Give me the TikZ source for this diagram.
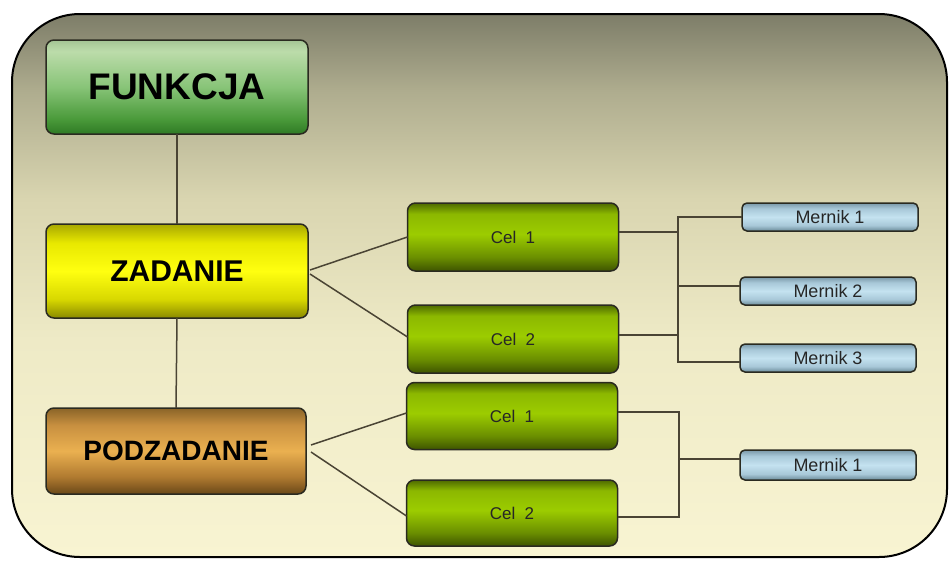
\documentclass[tikz,border=0pt]{standalone}
\usepackage{fontspec}
\setmainfont{Liberation Sans}
\usetikzlibrary{calc}
\definecolor{bgA}{HTML}{F8F4D2}
\definecolor{bgB}{HTML}{EEEAC6}
\definecolor{bgC}{HTML}{D9D5B0}
\definecolor{bgD}{HTML}{AEAC8E}
\definecolor{bgE}{HTML}{7D7D68}
\definecolor{edge}{HTML}{2A2A20}
\definecolor{wire}{HTML}{4A4434}
\definecolor{fA}{HTML}{2F7A25}
\definecolor{fB}{HTML}{4A9A3A}
\definecolor{fC}{HTML}{88C478}
\definecolor{fD}{HTML}{BCDCAA}
\definecolor{fE}{HTML}{A4C494}
\definecolor{zA}{HTML}{8A8A00}
\definecolor{zB}{HTML}{D8D800}
\definecolor{zC}{HTML}{FFFF10}
\definecolor{zD}{HTML}{E8E800}
\definecolor{zE}{HTML}{A8A800}
\definecolor{pA}{HTML}{6A4818}
\definecolor{pB}{HTML}{B07A30}
\definecolor{pC}{HTML}{EAB050}
\definecolor{pD}{HTML}{C89040}
\definecolor{pE}{HTML}{8A6428}
\definecolor{cA}{HTML}{3E5400}
\definecolor{cB}{HTML}{6A8E00}
\definecolor{cC}{HTML}{9CCC00}
\definecolor{cD}{HTML}{8CB800}
\definecolor{cE}{HTML}{4E6A00}
\definecolor{mA}{HTML}{6A8A98}
\definecolor{mB}{HTML}{A8C8D8}
\definecolor{mC}{HTML}{C4E2F0}
\definecolor{mD}{HTML}{A8C8D8}
\definecolor{mE}{HTML}{7A98A8}
\pgfdeclareverticalshading{bgshade}{100bp}{color(0bp)=(bgA); color(25bp)=(bgA); color(45bp)=(bgB); color(58bp)=(bgC); color(68bp)=(bgD); color(75bp)=(bgE); color(100bp)=(bgE)}
\pgfdeclareverticalshading{funkshade}{100bp}{color(0bp)=(fA); color(25bp)=(fA); color(33bp)=(fB); color(50bp)=(fC); color(69bp)=(fD); color(75bp)=(fE); color(100bp)=(fE)}
\pgfdeclareverticalshading{zadshade}{100bp}{color(0bp)=(zA); color(25bp)=(zA); color(35bp)=(zB); color(50bp)=(zC); color(65bp)=(zD); color(75bp)=(zE); color(100bp)=(zE)}
\pgfdeclareverticalshading{podshade}{100bp}{color(0bp)=(pA); color(25bp)=(pA); color(35bp)=(pB); color(50bp)=(pC); color(65bp)=(pD); color(75bp)=(pE); color(100bp)=(pE)}
\pgfdeclareverticalshading{celshade}{100bp}{color(0bp)=(cA); color(25bp)=(cA); color(35bp)=(cB); color(52bp)=(cC); color(67bp)=(cD); color(75bp)=(cE); color(100bp)=(cE)}
\pgfdeclareverticalshading{mershade}{100bp}{color(0bp)=(mA); color(25bp)=(mA); color(35bp)=(mB); color(50bp)=(mC); color(65bp)=(mD); color(75bp)=(mE); color(100bp)=(mE)}
\tikzset{
  box/.style={draw=edge, line width=1.5pt, rounded corners=8pt, inner sep=0pt, outer sep=0pt, align=center},
  bigbox/.style={box, minimum width=262pt, minimum height=94pt, font=\bfseries, text=black},
  celbox/.style={box, shading=celshade, minimum width=211pt, minimum height=68pt, font=\fontsize{17}{19}\selectfont, text=black!85},
  merbox/.style={box, shading=mershade, rounded corners=5pt, minimum width=176pt, minimum height=28pt, font=\fontsize{18}{20}\selectfont, text=black!85},
  conn/.style={draw=wire, line width=1.5pt}
}
\begin{document}
\begin{tikzpicture}[x=1pt,y=-1pt]
\useasboundingbox (0,0) rectangle (950,560);
\fill[white] (0,0) rectangle (950,560);
\path[draw=black, line width=2pt, shading=bgshade, rounded corners=68pt] (12,14) rectangle (947,557);
% main nodes
\node[bigbox, shading=funkshade, font=\bfseries\fontsize{37}{40}\selectfont] (f) at (177,87) {FUNKCJA};
\node[bigbox, shading=zadshade, font=\bfseries\fontsize{30}{34}\selectfont] (z) at (177,271) {ZADANIE};
\node[bigbox, shading=podshade, minimum width=260pt, minimum height=86pt, font=\bfseries\fontsize{28}{32}\selectfont] (p) at (176,451) {PODZADANIE};
% goals
\node[celbox] (c1) at (513,237) {Cel\ \ 1};
\node[celbox] (c2) at (513,339) {Cel\ \ 2};
\node[celbox, minimum height=67pt] (c3) at (512,416) {Cel\ \ 1};
\node[celbox, minimum height=66pt] (c4) at (512,513) {Cel\ \ 2};
% measures
\node[merbox] (m1) at (830,217) {Mernik 1};
\node[merbox] (m2) at (828,291) {Mernik 2};
\node[merbox] (m3) at (828,358) {Mernik 3};
\node[merbox, minimum height=30pt] (m4) at (828,465) {Mernik 1};
\coordinate (j1) at (678,0);
\coordinate (j2) at (679,0);
% connectors
\draw[conn] (f.south) -- (z.north);
\draw[conn] (z.south) -- (p.north);
\draw[conn] ($(z.east)+(2,-1)$) -- ($(c1.west)+(0,0)$);
\draw[conn] ($(z.east)+(2,3)$) -- ($(c2.west)+(0,-2)$);
\draw[conn] ($(p.east)+(5,-6)$) -- ($(c3.west)+(0,-3)$);
\draw[conn] ($(p.east)+(5,1)$) -- ($(c4.west)+(0,3)$);
\draw[conn] ($(c1.east)+(0,-5)$) -- ($(c1.east -| j1)+(0,-5)$);
\draw[conn] (m1.west) -- (m1.west -| j1) -- ($(m3.west -| j1)+(0,4)$) -- ($(m3.west)+(0,4)$);
\draw[conn] ($(c2.east)+(0,-4)$) -- ($(c2.east -| j1)+(0,-4)$);
\draw[conn] ($(m2.west)+(0,-5)$) -- ($(m2.west -| j1)+(0,-5)$);
\draw[conn] ($(c3.east)+(0,-4)$) -- ($(c3.east -| j2)+(0,-4)$) -- ($(c4.east -| j2)+(0,4)$) -- ($(c4.east)+(0,4)$);
\draw[conn] ($(m4.west -| j2)+(0,-6)$) -- ($(m4.west)+(0,-6)$);
\end{tikzpicture}
\end{document}
